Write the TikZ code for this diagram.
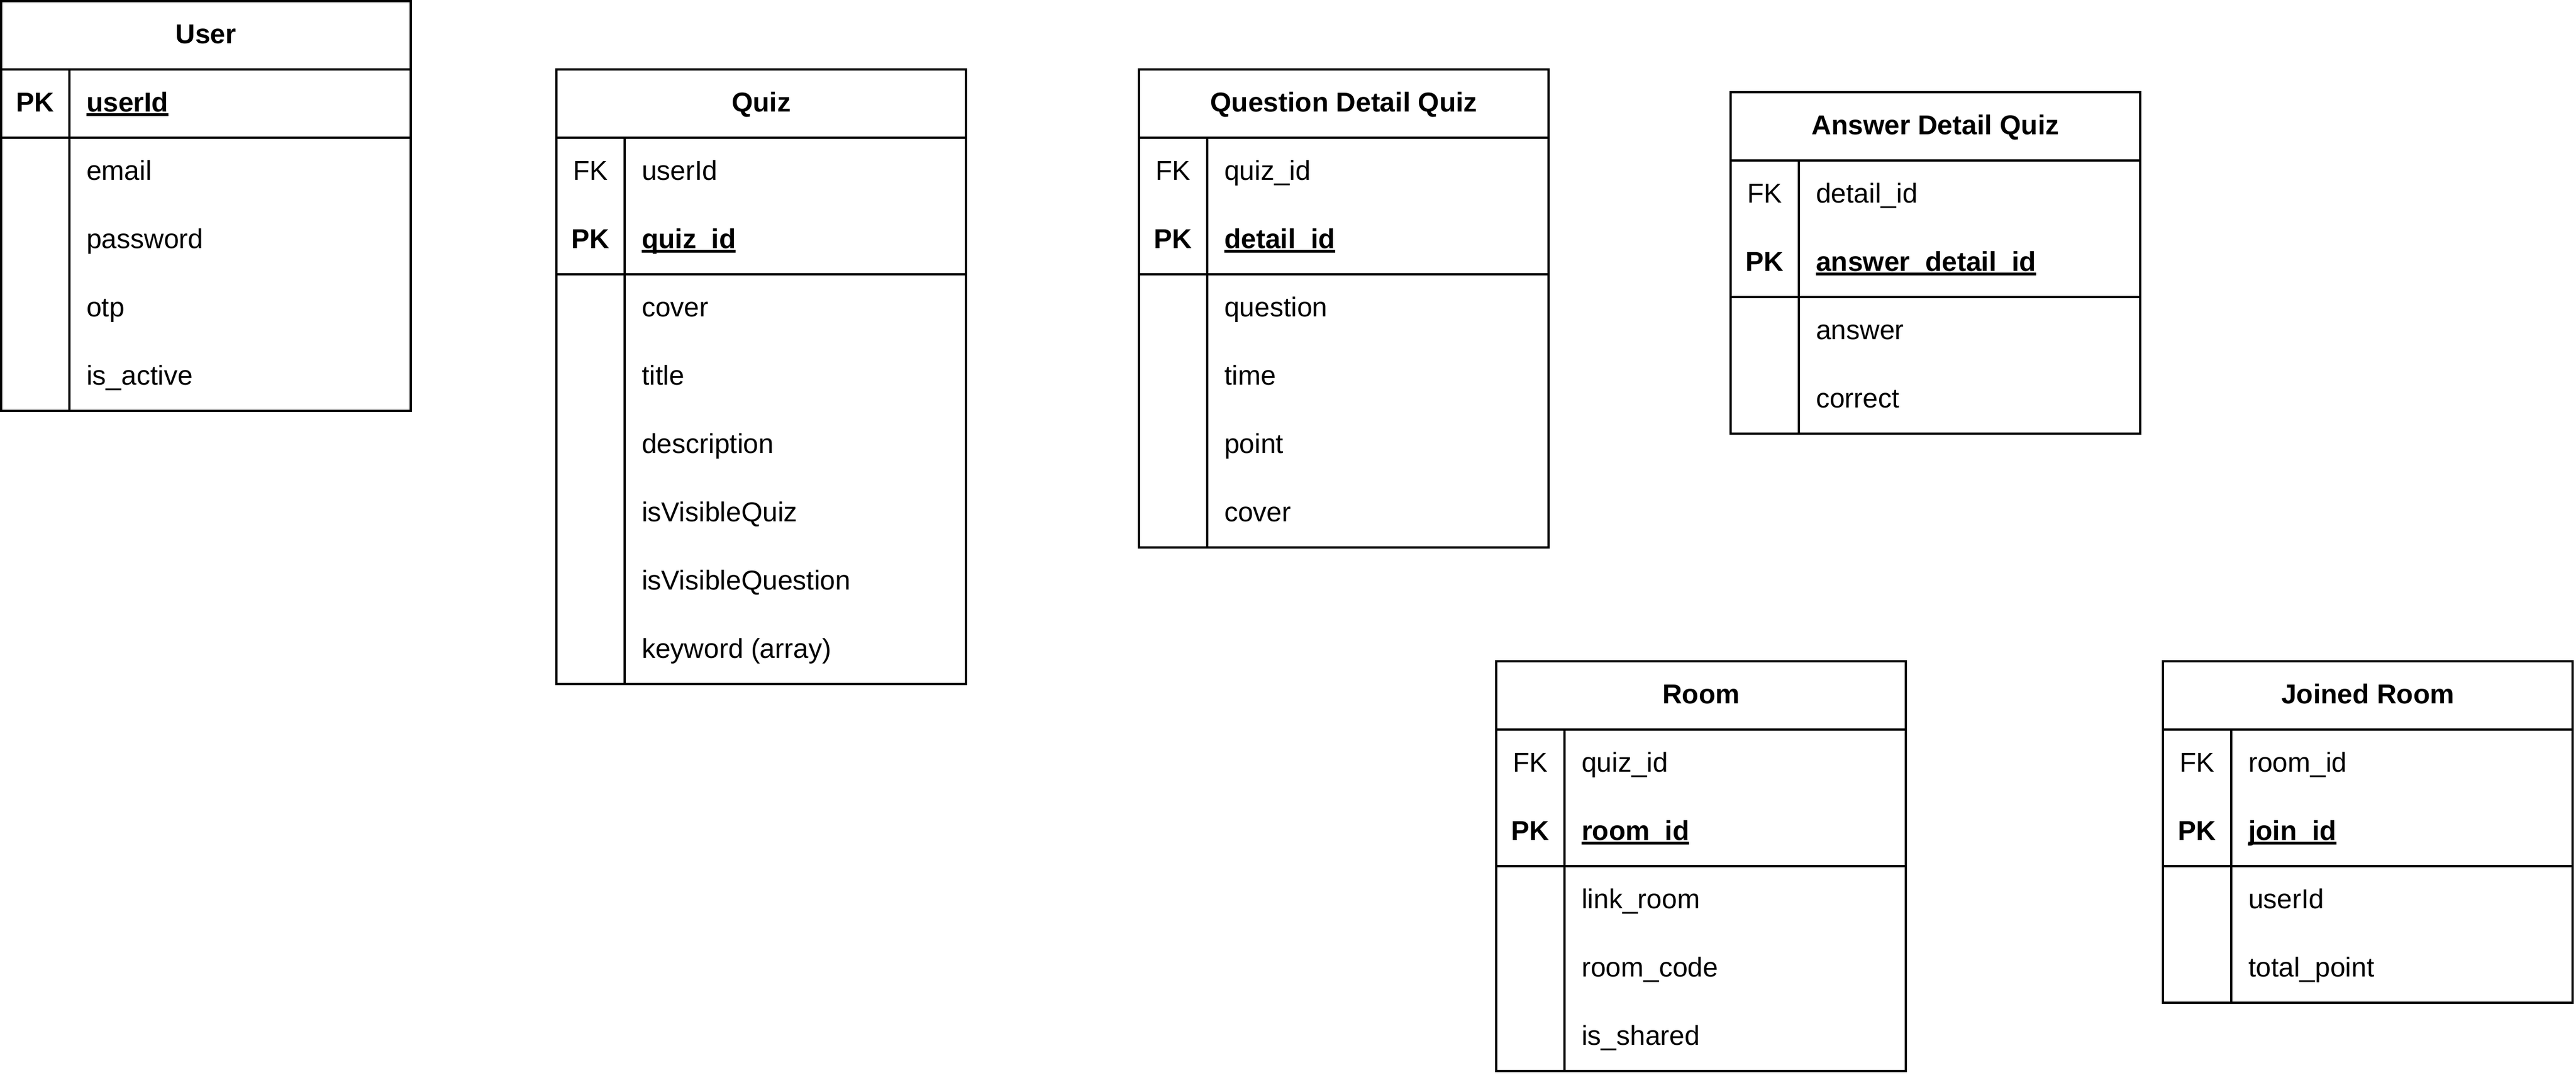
\documentclass[tikz,border=0pt]{standalone}
\usepackage{fontspec}
\setmainfont{Liberation Sans}
\newcommand\pkul[1]{\setbox0=\hbox{#1}\rlap{\rule[-1.8pt]{\wd0}{1.2pt}}\box0}
% #1 name, #2 x, #3 y, #4 rows incl. header, #5 key rows, #6 title
\newcommand\ertable[6]{%
  \node[frame, minimum width=180pt, minimum height={30pt*#4}] (#1) at (#2,#3) {};
  \draw ({#2},{#3+30}) -- ++(180,0);
  \draw ({#2},{#3+30+30*#5}) -- ++(180,0);
  \draw ({#2+30},{#3+30}) -- ({#2+30},{#3+30*#4});
  \node[ttl] (#1-title) at ({#2+90},{#3+18.6}) {#6};
}
% #1 name, #2 x, #3 y, #4 row, #5 text
\newcommand\attr[5]{\node[att] (#1) at ({#2+37},{#3+30*#4+18.6}) {#5};}
\newcommand\pkattr[5]{\node[att, font=\fontsize{12}{14}\selectfont\bfseries] (#1) at ({#2+37},{#3+30*#4+18.6}) {\pkul{#5}};}
% #1 name, #2 x, #3 y, #4 row
\newcommand\fklab[4]{\node[keyl] (#1) at ({#2+15},{#3+30*#4+18.6}) {FK};}
\newcommand\pklab[4]{\node[keyl, font=\fontsize{12}{14}\selectfont\bfseries] (#1) at ({#2+15},{#3+30*#4+18.6}) {PK};}
\begin{document}
\begin{tikzpicture}[x=1pt, y=-1pt, line width=1pt,
  frame/.style={draw, line width=1pt, anchor=north west, inner sep=0pt, outer sep=0pt},
  ttl/.style={anchor=base, inner sep=0pt, font=\fontsize{12}{14}\selectfont\bfseries},
  att/.style={anchor=base west, inner sep=0pt, font=\fontsize{12}{14}\selectfont},
  keyl/.style={anchor=base, inner sep=0pt, font=\fontsize{12}{14}\selectfont}]
\useasboundingbox (0,0) rectangle (1132,472);

% User
\ertable{user}{0.5}{0.5}{6}{1}{User}
\pklab{user-pk}{0.5}{0.5}{1}
\pkattr{user-a1}{0.5}{0.5}{1}{userId}
\attr{user-a2}{0.5}{0.5}{2}{email}
\attr{user-a3}{0.5}{0.5}{3}{password}
\attr{user-a4}{0.5}{0.5}{4}{otp}
\attr{user-a5}{0.5}{0.5}{5}{is\_active}

% Quiz
\ertable{quiz}{244.5}{30.5}{9}{2}{Quiz}
\fklab{quiz-fk}{244.5}{30.5}{1}
\pklab{quiz-pk}{244.5}{30.5}{2}
\attr{quiz-a1}{244.5}{30.5}{1}{userId}
\pkattr{quiz-a2}{244.5}{30.5}{2}{quiz\_id}
\attr{quiz-a3}{244.5}{30.5}{3}{cover}
\attr{quiz-a4}{244.5}{30.5}{4}{title}
\attr{quiz-a5}{244.5}{30.5}{5}{description}
\attr{quiz-a6}{244.5}{30.5}{6}{isVisibleQuiz}
\attr{quiz-a7}{244.5}{30.5}{7}{isVisibleQuestion}
\attr{quiz-a8}{244.5}{30.5}{8}{keyword (array)}

% Question Detail Quiz
\ertable{qdq}{500.5}{30.5}{7}{2}{Question Detail Quiz}
\fklab{qdq-fk}{500.5}{30.5}{1}
\pklab{qdq-pk}{500.5}{30.5}{2}
\attr{qdq-a1}{500.5}{30.5}{1}{quiz\_id}
\pkattr{qdq-a2}{500.5}{30.5}{2}{detail\_id}
\attr{qdq-a3}{500.5}{30.5}{3}{question}
\attr{qdq-a4}{500.5}{30.5}{4}{time}
\attr{qdq-a5}{500.5}{30.5}{5}{point}
\attr{qdq-a6}{500.5}{30.5}{6}{cover}

% Answer Detail Quiz
\ertable{adq}{760.5}{40.5}{5}{2}{Answer Detail Quiz}
\fklab{adq-fk}{760.5}{40.5}{1}
\pklab{adq-pk}{760.5}{40.5}{2}
\attr{adq-a1}{760.5}{40.5}{1}{detail\_id}
\pkattr{adq-a2}{760.5}{40.5}{2}{answer\_detail\_id}
\attr{adq-a3}{760.5}{40.5}{3}{answer}
\attr{adq-a4}{760.5}{40.5}{4}{correct}

% Room
\ertable{room}{657.5}{290.5}{6}{2}{Room}
\fklab{room-fk}{657.5}{290.5}{1}
\pklab{room-pk}{657.5}{290.5}{2}
\attr{room-a1}{657.5}{290.5}{1}{quiz\_id}
\pkattr{room-a2}{657.5}{290.5}{2}{room\_id}
\attr{room-a3}{657.5}{290.5}{3}{link\_room}
\attr{room-a4}{657.5}{290.5}{4}{room\_code}
\attr{room-a5}{657.5}{290.5}{5}{is\_shared}

% Joined Room
\ertable{joined}{950.5}{290.5}{5}{2}{Joined Room}
\fklab{joined-fk}{950.5}{290.5}{1}
\pklab{joined-pk}{950.5}{290.5}{2}
\attr{joined-a1}{950.5}{290.5}{1}{room\_id}
\pkattr{joined-a2}{950.5}{290.5}{2}{join\_id}
\attr{joined-a3}{950.5}{290.5}{3}{userId}
\attr{joined-a4}{950.5}{290.5}{4}{total\_point}
\end{tikzpicture}
\end{document}
